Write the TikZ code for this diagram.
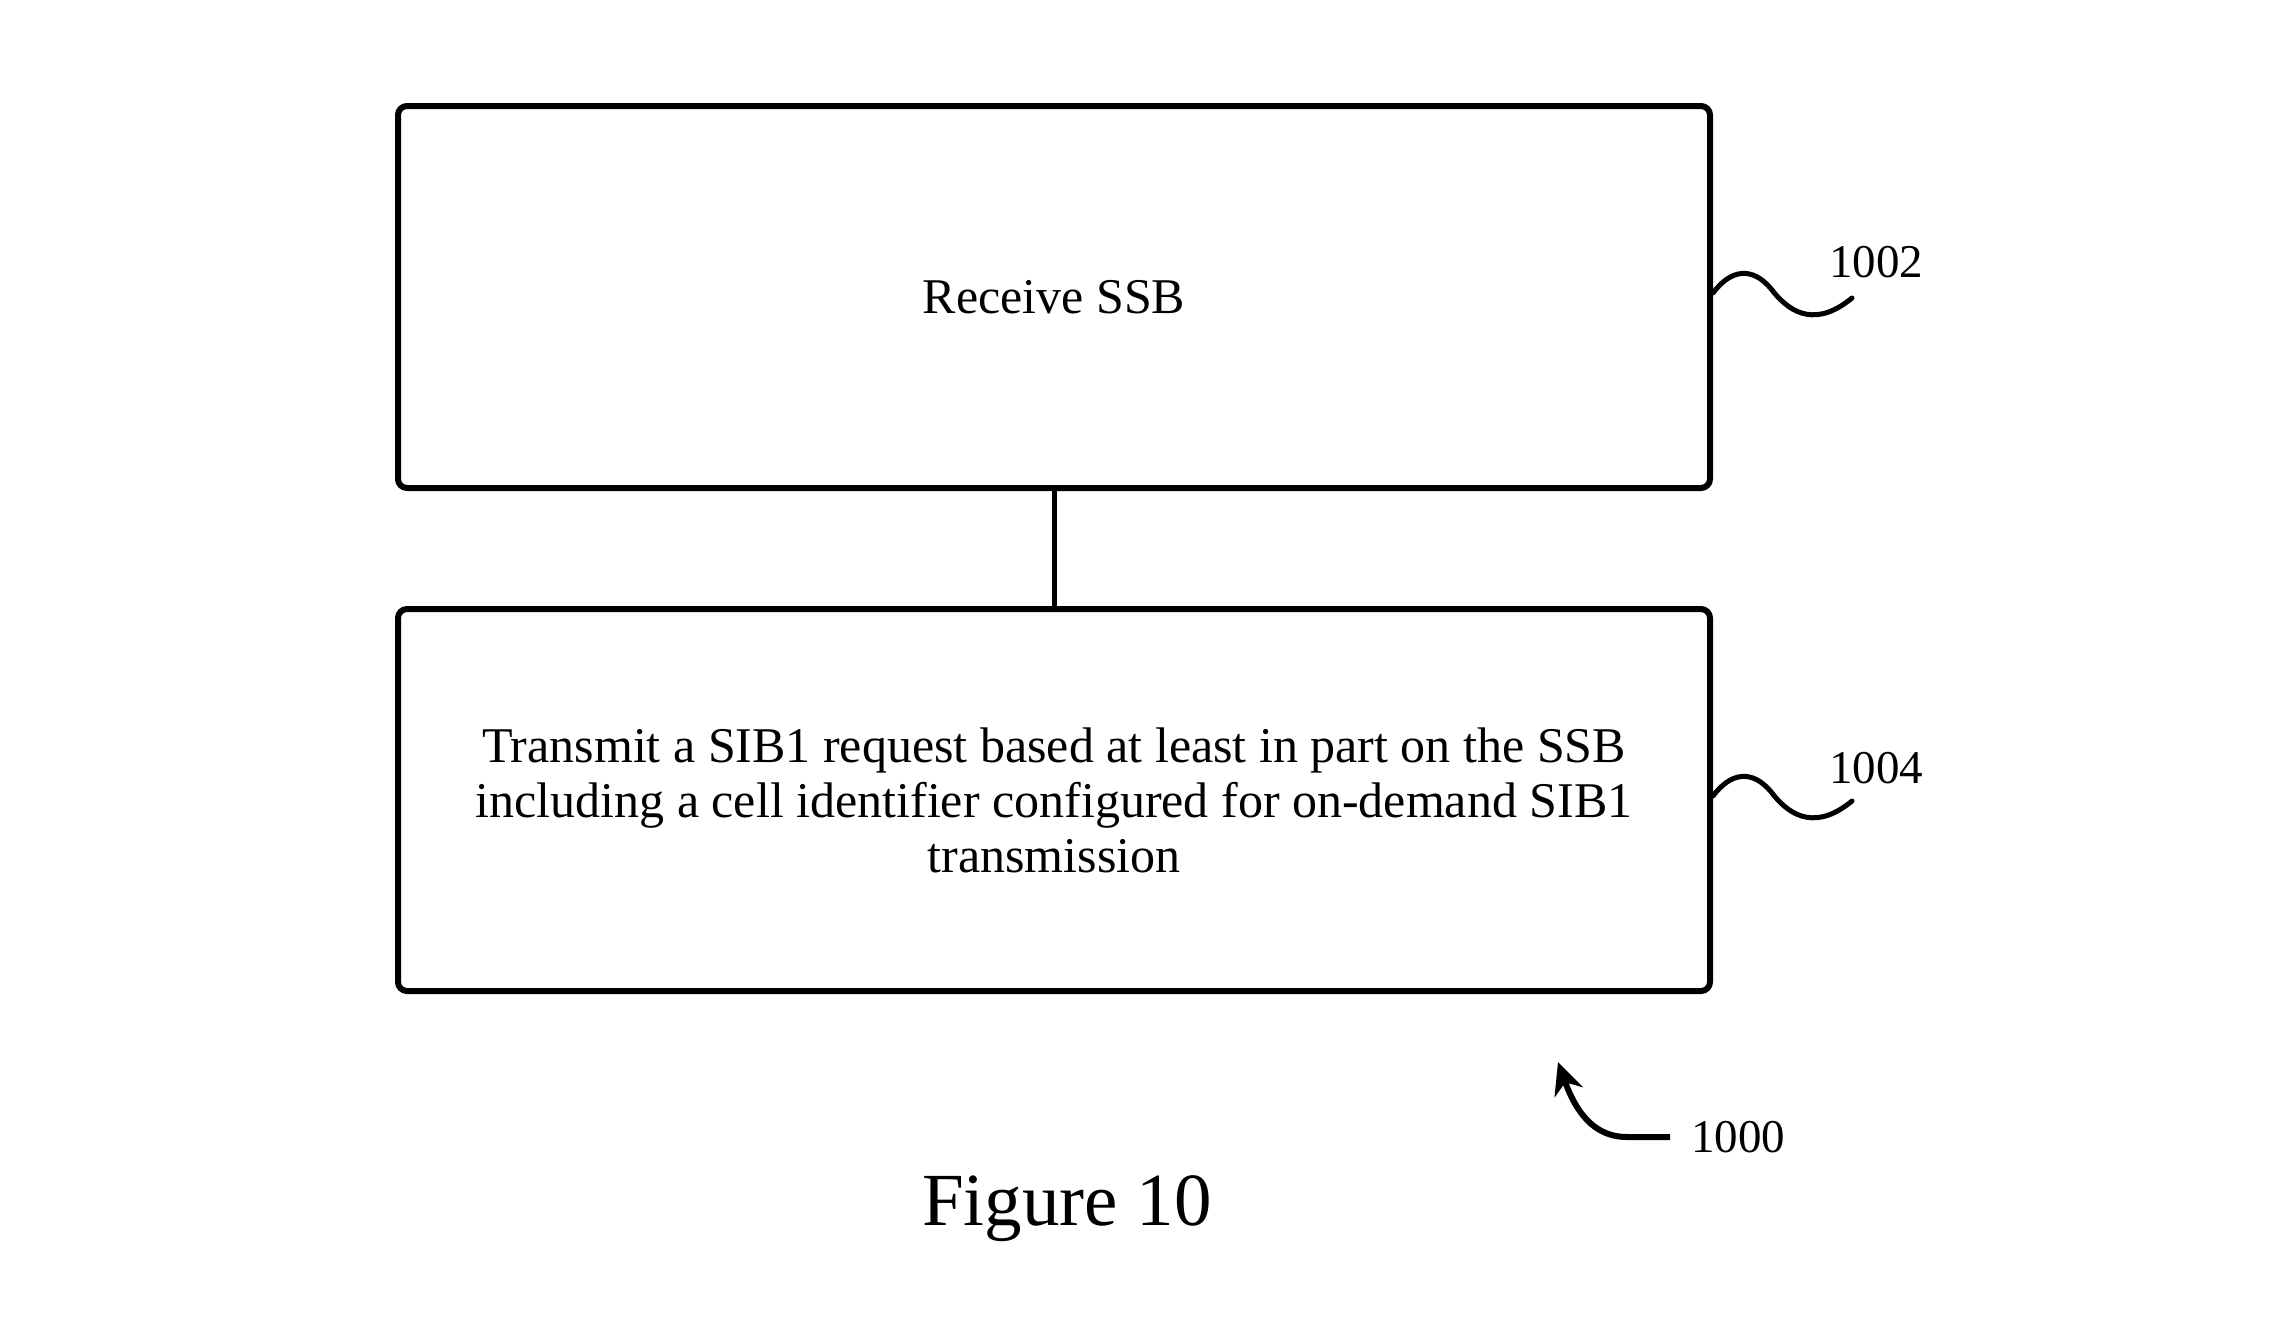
\documentclass[tikz,border=0pt]{standalone}
\usepackage{fontspec}
\setmainfont{Liberation Serif}
\usetikzlibrary{arrows.meta}
\begin{document}
\begin{tikzpicture}[x=1pt,y=-1pt,
  stepbox/.style={draw,line width=6pt,rounded corners=9pt,minimum width=1312pt,minimum height=382pt,inner sep=0pt,align=center,font=\fontsize{50}{55}\selectfont},
  conn/.style={line width=5pt},
  squig/.style={line width=5pt,line cap=round},
  reflabel/.style={inner sep=0pt,font=\fontsize{47}{50}\selectfont}]
\useasboundingbox (0,0) rectangle (2284,1341);
\node[stepbox] (b1) at (1054,297) {Receive SSB};
\node[stepbox] (b2) at (1054,800) {Transmit a SIB1 request based at least in part on the SSB\\including a cell identifier configured for on-demand SIB1\\transmission};
\draw[conn] (b1.south) -- (b2.north);
% squiggle 1002
\coordinate (s1) at (1713,293);
\draw[squig] (s1) .. controls (1730,270) and (1752,265) .. (1772,290) .. controls (1792,316) and (1818,326) .. (1852,298);
\node[reflabel] (l1) at (1876,262) {1002};
% squiggle 1004
\coordinate (s2) at (1713,796);
\draw[squig] (s2) .. controls (1730,773) and (1752,768) .. (1772,793) .. controls (1792,819) and (1818,829) .. (1852,801);
\node[reflabel] (l2) at (1876,768) {1004};
% arrow 1000
\coordinate (a0) at (1670,1137);
\coordinate (a1) at (1627,1137);
\coordinate (a2) at (1558,1062);
\draw[line width=6pt,-{Stealth[length=32pt,width=30pt]}] (a0) -- (a1) .. controls (1598,1137) and (1578,1118) .. (a2);
\node[reflabel] (l3) at (1738,1137) {1000};
\node[inner sep=0pt,anchor=base,font=\fontsize{75}{80}\selectfont] (fig) at (1067,1225) {Figure 10};
\end{tikzpicture}
\end{document}
